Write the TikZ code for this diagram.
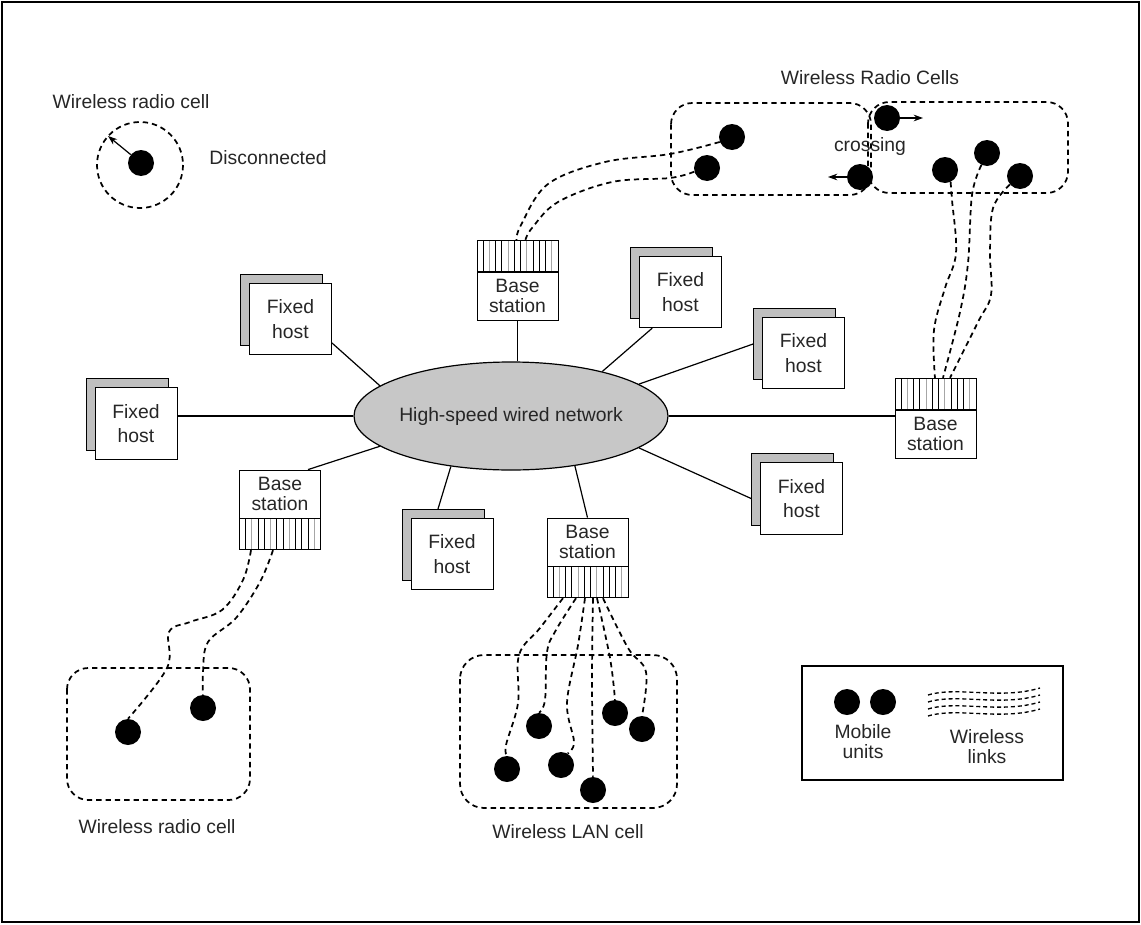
\documentclass[tikz,border=0pt]{standalone}
\usepackage{fontspec}
\setmainfont{Liberation Sans}
\usetikzlibrary{calc,shadows,arrows.meta,shapes.geometric}

\tikzset{
  lbl/.style={font=\fontsize{14.5}{15}\selectfont, text=black!85, inner sep=1pt},
  fixedhost/.style={draw, fill=white, line width=0.6pt, minimum width=61.5pt,
    minimum height=53.5pt, inner sep=0pt, align=center,
    font=\fontsize{14.5}{18.5}\selectfont, text=black!85,
    copy shadow={opacity=1, fill=black!25, draw=black, line width=0.6pt,
      shadow xshift=-6.75pt, shadow yshift=6.75pt}},
  bstext/.style={draw, fill=white, line width=0.6pt, minimum width=60.75pt,
    minimum height=36pt, inner sep=0pt, align=center,
    font=\fontsize{14.5}{15}\selectfont, text=black!85},
  stripes/.style={draw, line width=0.6pt, minimum width=60.75pt,
    minimum height=23.25pt, inner sep=0pt,
    path picture={
      \foreach \k/\c in {1/black,2/black!35,3/black,4/black,5/black!35,6/black,
                         7/black,8/black!35,9/black,10/black,11/black,12/black!35}{
        \draw[\c, line width=0.7pt]
          ($(path picture bounding box.south west)!\k/13!(path picture bounding box.south east)$) --
          ($(path picture bounding box.north west)!\k/13!(path picture bounding box.north east)$);
      }}},
  mobile/.style={circle, fill=black, minimum size=19.5pt, inner sep=0pt},
  wlink/.style={line width=1.3pt, dash pattern=on 4pt off 3pt},
  cellbox/.style={line width=1.3pt, dash pattern=on 4pt off 3pt},
  wire/.style={line width=0.9pt},
  move/.style={line width=0.9pt, -{Stealth[length=7pt,width=5pt]}}
}

\begin{document}
\begin{tikzpicture}[x=0.75pt,y=-0.75pt]
\useasboundingbox (0,0) rectangle (1141,924);
% outer frame
\draw[line width=1.2pt] (2,2) rectangle (1139,922);

% backbone network
\node[ellipse, draw, fill=black!22, line width=0.9pt, minimum width=235.5pt,
      minimum height=81pt, inner sep=0pt,
      label={[lbl]center:High-speed wired network}] (net) at (511,416) {};

% fixed hosts
\node[fixedhost] (fh1) at (136,423.5) {Fixed\\host};
\node[fixedhost] (fh2) at (290.5,319) {Fixed\\host};
\node[fixedhost] (fh3) at (680.5,292) {Fixed\\host};
\node[fixedhost] (fh4) at (803.5,353) {Fixed\\host};
\node[fixedhost] (fh5) at (801.5,498.5) {Fixed\\host};
\node[fixedhost] (fh6) at (452,554) {Fixed\\host};

% base stations: label box plus antenna strip
\node[bstext] (bsT) at (517.5,296) {Base\\station};
\node[stripes, anchor=south] (bsTs) at (bsT.north) {};
\node[bstext] (bsR) at (935.5,434) {Base\\station};
\node[stripes, anchor=south] (bsRs) at (bsR.north) {};
\node[bstext] (bsL) at (280,494) {Base\\station};
\node[stripes, anchor=north] (bsLs) at (bsL.south) {};
\node[bstext] (bsB) at (587.5,542) {Base\\station};
\node[stripes, anchor=north] (bsBs) at (bsB.south) {};

% wired links
\draw[wire] (net.west) -- (net.west -| fh1.east);
\draw[wire] (net.167) -- (fh2.-30);
\draw[wire] (net.26) -- (fh3.232);
\draw[wire] (net.14) -- ([xshift=-6.75pt,yshift=6.75pt]fh4.west);
\draw[wire] (net.-14) -- ([xshift=-6.75pt]fh5.west);
\draw[wire] (net.220) -- ([xshift=-10.5pt,yshift=6.75pt]fh6.north);
\draw[wire] (bsT.south) -- (bsT.south |- net.north);
\draw[wire] (net.east) -- (net.east -| bsR.west);
\draw[wire] (net.193) -- ([xshift=21pt]bsL.north);
\draw[wire] (net.-38) -- (bsB.north);

% disconnected unit
\node[lbl] (tlcell) at (131,102) {Wireless radio cell};
\draw[cellbox] (140,165) circle[radius=43];
\node[mobile] (d0) at (141,163) {};
\coordinate (d0to) at (108,136);
\draw[move] (d0) -- (d0to);
\node[lbl] (disc) at (268,158) {Disconnected};

% two neighbouring radio cells
\node[lbl] (trcells) at (870,78) {Wireless Radio Cells};
\draw[cellbox, rounded corners=16pt] (671,103) rectangle (871,195);
\draw[cellbox, rounded corners=16pt] (868,102) rectangle (1068,193);
\node[mobile] (u1) at (732,137) {};
\node[mobile] (u2) at (707,168) {};
\node[mobile] (c1) at (887,118) {};
\node[mobile] (c2) at (860,177) {};
\node[mobile] (r1) at (945,170) {};
\node[mobile] (r2) at (987,153) {};
\node[mobile] (r3) at (1020,176) {};
\node[lbl] (cross) at (870,147) {crossing};
\coordinate (c1to) at (923,118);
\coordinate (c2to) at (828,177);
\draw[move] (c1) -- (c1to);
\draw[move] (c2) -- (c2to);

% radio links to the upper base station
\coordinate (bsTa) at ([xshift=-0.75pt]bsTs.north);
\coordinate (bsTb) at ([xshift=6pt]bsTs.north);
\draw[wlink] plot[smooth, tension=0.6] coordinates
  {(u1.202) (670,154) (605,162) (548,184) (521,225) (bsTa)};
\draw[wlink] plot[smooth, tension=0.6] coordinates
  {(u2.196) (670,178) (612,182) (558,202) (532,228) (bsTb)};

% radio links to the right base station
\coordinate (bsRa) at ([xshift=-0.4pt]bsRs.north);
\coordinate (bsRb) at ([xshift=5.6pt]bsRs.north);
\coordinate (bsRc) at ([xshift=10.9pt]bsRs.north);
\draw[wlink] plot[smooth, tension=0.6] coordinates
  {(r1.295) (952,200) (956,253) (945,288) (934,330) (bsRa)};
\draw[wlink] plot[smooth, tension=0.6] coordinates
  {(r2.245) (972,195) (968,263) (960,312) (bsRb)};
\draw[wlink] plot[smooth, tension=0.6] coordinates
  {(r3.220) (993,208) (990,253) (991,295) (978,322) (bsRc)};

% bottom-left radio cell
\draw[cellbox, rounded corners=16pt] (67,668) rectangle (250,800);
\node[mobile] (m1) at (128,732) {};
\node[mobile] (m2) at (203,708) {};
\node[lbl] (blcell) at (157,827) {Wireless radio cell};
\coordinate (bsLa) at ([xshift=-21.75pt]bsLs.south);
\coordinate (bsLb) at ([xshift=-5.25pt]bsLs.south);
\draw[wlink] plot[smooth, tension=0.6] coordinates
  {(bsLa) (243,580) (222,610) (190,622) (169,632) (167,668) (m1.north)};
\draw[wlink] plot[smooth, tension=0.6] coordinates
  {(bsLb) (260,582) (236,618) (208,642) (203,672) (m2.north)};

% wireless LAN cell
\draw[cellbox, rounded corners=18pt] (460,655) rectangle (677,808);
\node[mobile] (n1) at (507,769) {};
\node[mobile] (n2) at (539,726) {};
\node[mobile] (n3) at (561,765) {};
\node[mobile] (n4) at (593,790) {};
\node[mobile] (n5) at (615,713) {};
\node[mobile] (n6) at (642,729) {};
\node[lbl] (lancell) at (568,832) {Wireless LAN cell};
\coordinate (bsBa) at ([xshift=-18.4pt]bsBs.south);
\coordinate (bsBb) at ([xshift=-8.6pt]bsBs.south);
\coordinate (bsBc) at ([xshift=-1.9pt]bsBs.south);
\coordinate (bsBd) at ([xshift=4.1pt]bsBs.south);
\coordinate (bsBe) at ([xshift=7.1pt]bsBs.south);
\coordinate (bsBf) at ([xshift=11.6pt]bsBs.south);
\draw[wlink] plot[smooth, tension=0.6] coordinates
  {(bsBa) (540,628) (519,655) (518,703) (506,745) (n1.north)};
\draw[wlink] plot[smooth, tension=0.6] coordinates
  {(bsBb) (556,630) (547,652) (545,700) (n2.north)};
\draw[wlink] plot[smooth, tension=0.6] coordinates
  {(bsBc) (578,645) (567,703) (574,742) (n3.60)};
\draw[wlink] plot[smooth, tension=0.6] coordinates
  {(bsBd) (592,680) (n4.north)};
\draw[wlink] plot[smooth, tension=0.6] coordinates
  {(bsBe) (610,658) (n5.north)};
\draw[wlink] plot[smooth, tension=0.6] coordinates
  {(bsBf) (628,648) (646,672) (n6.north)};

% legend
\node[draw, line width=0.9pt, minimum width=195.75pt, minimum height=85.5pt,
      inner sep=0pt] (legend) at (932.5,723) {};
\node[mobile] (lg1) at (847,702) {};
\node[mobile] (lg2) at (883,702) {};
\node[lbl, align=center] (lgm) at (863,742) {Mobile\\units};
\foreach \y in {692,699,706,713}
  \draw[line width=1pt, dash pattern=on 3pt off 2.2pt]
    (928,\y+3) .. controls (958,\y-6) and (1000,\y+8) .. (1040,\y-4);
\node[lbl, align=center] (lgw) at (987,747) {Wireless\\links};
\end{tikzpicture}
\end{document}
